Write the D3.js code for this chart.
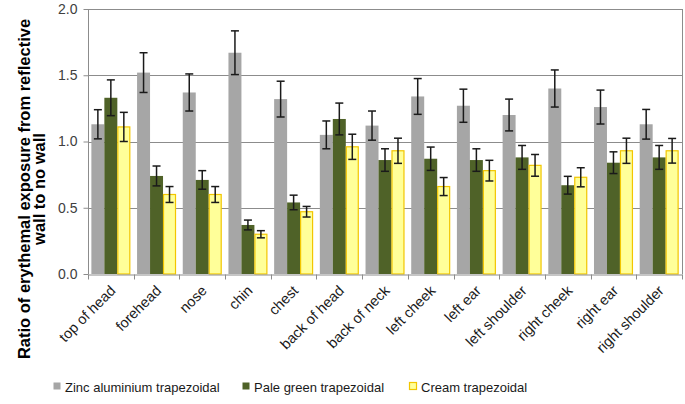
<!DOCTYPE html>
<html>
<head>
<meta charset="utf-8">
<style>
  body { margin: 0; background: #fff; }
  text { font-family: "Liberation Sans", Arial, sans-serif; }
</style>
</head>
<body>
<svg id="chart" width="685" height="404"></svg>
<script src="https://cdnjs.cloudflare.com/ajax/libs/d3/7.8.5/d3.min.js"></script>
<script>
var sites = ["top of head", "forehead", "nose", "chin", "chest", "back of head", "back of neck",
             "left cheek", "left ear", "left shoulder", "right cheek", "right ear", "right shoulder"];
var seriesNames = ["Zinc aluminium trapezoidal", "Pale green trapezoidal", "Cream trapezoidal"];

var zincVals  = [1.13, 1.52, 1.37, 1.67, 1.32, 1.05, 1.12, 1.34, 1.27, 1.20, 1.40, 1.26, 1.13];
var zincErr   = [0.11, 0.15, 0.14, 0.165, 0.135, 0.105, 0.11, 0.135, 0.125, 0.12, 0.14, 0.128, 0.112];
var greenVals = [1.33, 0.74, 0.71, 0.37, 0.54, 1.17, 0.86, 0.87, 0.86, 0.88, 0.67, 0.84, 0.88];
var greenErr  = [0.135, 0.075, 0.07, 0.037, 0.055, 0.12, 0.085, 0.088, 0.085, 0.09, 0.067, 0.082, 0.09];
var creamVals = [1.11, 0.60, 0.60, 0.30, 0.47, 0.96, 0.93, 0.66, 0.78, 0.82, 0.73, 0.93, 0.93];
var creamErr  = [0.11, 0.06, 0.06, 0.027, 0.04, 0.095, 0.095, 0.068, 0.078, 0.082, 0.072, 0.095, 0.093];
var yTicks = [0, 0.5, 1.0, 1.5, 2.0];

var fills = ["#a6a6a6", "#4f6228", "#ffff99"];
var strokes = ["none", "none", "#f2c600"];

var series = [
  {name: seriesNames[0], vals: zincVals, err: zincErr},
  {name: seriesNames[1], vals: greenVals, err: greenErr},
  {name: seriesNames[2], vals: creamVals, err: creamErr}
];

var svg = d3.select("#chart");
var plotL = 88, plotR = 682, plotT = 9, plotB = 274;

var x = d3.scaleBand().domain(sites).range([plotL, plotR]).paddingInner(0).paddingOuter(0);
var x1 = d3.scaleBand().domain([0, 1, 2]).range([0, x.bandwidth()]).paddingInner(0).paddingOuter(0.26);
var y = d3.scaleLinear().domain([0, 2]).range([plotB, plotT]);

// gridlines
svg.append("g").selectAll("line").data(yTicks.slice(1)).join("line")
  .attr("x1", plotL).attr("x2", plotR)
  .attr("y1", function(d){ return Math.round(y(d)) + 0.5; })
  .attr("y2", function(d){ return Math.round(y(d)) + 0.5; })
  .attr("stroke", "#8c8c8c").attr("stroke-width", 1);

// plot border (right side)
svg.append("line").attr("x1", plotR + 0.5).attr("x2", plotR + 0.5)
  .attr("y1", y(2)).attr("y2", plotB).attr("stroke", "#8c8c8c");

// bars
var groups = svg.append("g").selectAll("g").data(series).join("g");
groups.each(function(s, si) {
  var g = d3.select(this);
  g.selectAll("rect").data(s.vals).join("rect")
    .attr("x", function(d, i){ return x(sites[i]) + x1(si) + (si == 2 ? 0.5 : 0); })
    .attr("y", function(d){ return y(d); })
    .attr("width", x1.bandwidth() - (si == 2 ? 1 : 0))
    .attr("height", function(d){ return y(0) - y(d); })
    .attr("fill", fills[si])
    .attr("stroke", strokes[si])
    .attr("stroke-width", 1.2);
});

// error bars
groups.each(function(s, si) {
  var g = d3.select(this).append("g");
  s.vals.forEach(function(v, i) {
    var cx = x(sites[i]) + x1(si) + x1.bandwidth() / 2;
    var hi = y(v + s.err[i]), lo = y(v - s.err[i]);
    g.append("line").attr("x1", cx).attr("x2", cx).attr("y1", hi).attr("y2", lo)
      .attr("stroke", "#1a1a1a").attr("stroke-width", 1.5);
    [hi, lo].forEach(function(yy) {
      g.append("line").attr("x1", cx - 4).attr("x2", cx + 4).attr("y1", yy).attr("y2", yy)
        .attr("stroke", "#1a1a1a").attr("stroke-width", 1.5);
    });
  });
});

// y axis
var yAxis = svg.append("g").attr("transform", "translate(" + (plotL + 0.5) + ",0)")
  .call(d3.axisLeft(y).tickValues(yTicks).tickFormat(d3.format(".1f")).tickSize(5).tickPadding(6));
yAxis.select(".domain").attr("stroke", "#8c8c8c").attr("d", "M0," + y(2) + "V" + plotB);
yAxis.selectAll(".tick line").attr("stroke", "#8c8c8c");
yAxis.selectAll(".tick text").attr("font-size", 14).attr("fill", "#404040")
  .attr("font-family", "Liberation Sans, Arial, sans-serif");

// x axis
var xAxis = svg.append("g").attr("transform", "translate(0," + (plotB + 0.5) + ")")
  .call(d3.axisBottom(x).tickSize(0).tickFormat(""));
xAxis.select(".domain").attr("stroke", "#8c8c8c");
xAxis.selectAll(".tick").remove();
var boundaries = sites.map(function(d){ return x(d); }).concat([plotR]);
xAxis.selectAll("line.sep").data(boundaries).join("line").attr("class", "sep")
  .attr("x1", function(d){ return Math.round(d) + 0.5; })
  .attr("x2", function(d){ return Math.round(d) + 0.5; })
  .attr("y1", 0).attr("y2", 5).attr("stroke", "#8c8c8c");

svg.append("g").selectAll("text").data(sites).join("text")
  .attr("transform", function(d){
    return "translate(" + (x(d) + x.bandwidth() / 2 + 2) + "," + (plotB + 14) + ") rotate(-45)";
  })
  .attr("text-anchor", "end")
  .attr("dy", "0.35em")
  .attr("font-size", 14.5)
  .attr("fill", "#1a1a1a")
  .text(function(d){ return d; });

// y title
var yt = svg.append("text")
  .attr("transform", "translate(32,189) rotate(-90)")
  .attr("text-anchor", "middle")
  .attr("font-size", 16.5)
  .attr("font-weight", "bold")
  .attr("fill", "#000");
yt.append("tspan").attr("x", 0).attr("dy", "-0.15em").text("Ratio of erythemal exposure from reflective");
yt.append("tspan").attr("x", 0).attr("dy", "0.95em").text("wall to no wall");

// legend
var legendX = [53, 242, 409];
var legend = svg.append("g").selectAll("g").data(series).join("g")
  .attr("transform", function(d, i){ return "translate(" + legendX[i] + ",387)"; });
legend.append("rect")
  .attr("x", 0.5).attr("y", -4.5).attr("width", 7).attr("height", 7)
  .attr("fill", function(d, i){ return fills[i]; })
  .attr("stroke", function(d, i){ return strokes[i]; })
  .attr("stroke-width", 1.2);
legend.append("text")
  .attr("x", 12).attr("y", 0).attr("dy", "0.35em")
  .attr("font-size", 13).attr("fill", "#1a1a1a")
  .text(function(d){ return d.name; });
</script>
</body>
</html>
